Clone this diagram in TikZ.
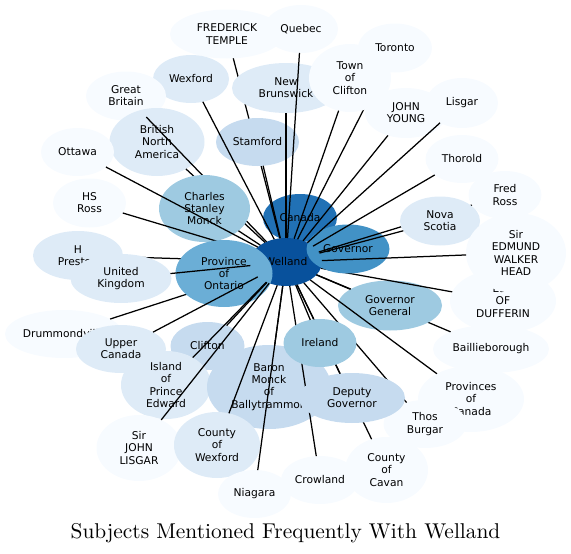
\documentclass[tikz,border=0pt]{standalone}
\usepackage{fontspec}
\newfontfamily\lab{DejaVu Sans}
\newfontfamily\ttlfont{lmroman10-regular.otf}
\usetikzlibrary{shapes.geometric}
\definecolor{cA}{HTML}{08519C}
\definecolor{cB}{HTML}{2171B5}
\definecolor{cC}{HTML}{4292C6}
\definecolor{cD}{HTML}{6BAED6}
\definecolor{cE}{HTML}{9ECAE1}
\definecolor{cF}{HTML}{C6DBEF}
\definecolor{cG}{HTML}{DEEBF7}
\definecolor{cH}{HTML}{F7FBFF}
\tikzset{
  nd/.style={ellipse, inner sep=0pt, outer sep=0pt, align=center, text=black,
    font=\lab\fontsize{10.7}{12.2}\selectfont},
  con/.style={draw=black, line width=1.25pt},
}
\begin{document}
\begin{tikzpicture}[x=1pt,y=-1pt]
\useasboundingbox (0,0) rectangle (571,554);
\node[nd, fill=cB, minimum width=74pt, minimum height=48pt] (canada) at (300,218) {Canada};
\node[nd, fill=cA, minimum width=72pt, minimum height=48pt] (welland) at (286,262) {Welland};
\node[nd, fill=cH, minimum width=116pt, minimum height=48pt] (baill) at (491,349) {Baillieborough};
\draw[con] (welland) -- (baill);
\node[nd, fill=cE, minimum width=104pt, minimum height=50pt] (gg) at (390,305.5) {Governor\\General};
\draw[con] (welland) -- (gg);
\node[nd, fill=cH, minimum width=106pt, minimum height=64pt] (duff) at (503,301) {Earl\\OF\\DUFFERIN};
\draw[con] (welland) -- (duff);
\node[nd, fill=cC, minimum width=83pt, minimum height=49pt] (gov) at (348,249) {Governor};
\node[nd, fill=cH, minimum width=73pt, minimum height=48pt] (fred) at (505,195) {Fred\\Ross};
\draw[con] (welland) -- (fred);
\node[nd, fill=cG, minimum width=80pt, minimum height=49pt] (nova) at (440,221) {Nova\\Scotia};
\draw[con] (welland) -- (nova);
\node[nd, fill=cH, minimum width=100pt, minimum height=80pt] (sewh) at (516,253) {Sir\\EDMUND\\WALKER\\HEAD};
\draw[con] (welland) -- (sewh);
\node[nd, fill=cH, minimum width=73pt, minimum height=48pt] (thor) at (462,159) {Thorold};
\draw[con] (welland) -- (thor);
\node[nd, fill=cH, minimum width=82pt, minimum height=50pt] (jy) at (406,113) {JOHN\\YOUNG};
\draw[con] (welland) -- (jy);
\node[nd, fill=cH, minimum width=72pt, minimum height=50pt] (lisgar) at (462,103) {Lisgar};
\draw[con] (welland) -- (lisgar);
\node[nd, fill=cH, minimum width=114pt, minimum height=49pt] (ft) at (227,34) {FREDERICK\\TEMPLE};
\draw[con] (welland) -- (ft);
\node[nd, fill=cF, minimum width=83pt, minimum height=48pt] (stam) at (257.5,142) {Stamford};
\draw[con] (welland) -- (stam);
\node[nd, fill=cG, minimum width=108pt, minimum height=50pt] (nb) at (286,88) {New\\Brunswick};
\draw[con] (welland) -- (nb);
\node[nd, fill=cH, minimum width=74pt, minimum height=48pt] (quebec) at (301,29) {Quebec};
\draw[con] (welland) -- (quebec);
\node[nd, fill=cH, minimum width=74pt, minimum height=49pt] (toronto) at (395,48) {Toronto};
\draw[con] (welland) -- (toronto);
\node[nd, fill=cH, minimum width=82pt, minimum height=68pt] (toc) at (350,78) {Town\\of\\Clifton};
\draw[con] (welland) -- (toc);
\node[nd, fill=cG, minimum width=76pt, minimum height=48pt] (wex) at (191,79) {Wexford};
\draw[con] (welland) -- (wex);
\node[nd, fill=cH, minimum width=80pt, minimum height=49pt] (gb) at (126,96) {Great\\Britain};
\node[nd, fill=cG, minimum width=95pt, minimum height=68pt] (bna) at (157,142) {British\\North\\America};
\draw[con] (welland) -- (bna);
\draw[con] (welland) -- (gb);
\node[nd, fill=cE, minimum width=91pt, minimum height=67pt] (csm) at (204.5,208.5) {Charles\\Stanley\\Monck};
\draw[con] (welland) -- (csm);
\node[nd, fill=cH, minimum width=73pt, minimum height=48pt] (ottawa) at (77.5,152) {Ottawa};
\draw[con] (welland) -- (ottawa);
\node[nd, fill=cH, minimum width=73pt, minimum height=49pt] (hs) at (89.5,203) {HS\\Ross};
\draw[con] (welland) -- (hs);
\node[nd, fill=cG, minimum width=90pt, minimum height=49pt] (hp) at (78,255.5) {H\\Preston};
\draw[con] (welland) -- (hp);
\node[nd, fill=cH, minimum width=118pt, minimum height=48pt] (drum) at (64,334) {Drummondville};
\draw[con] (welland) -- (drum);
\node[nd, fill=cD, minimum width=97pt, minimum height=67pt] (pont) at (224,273.5) {Province\\of\\Ontario};
\node[nd, fill=cG, minimum width=101pt, minimum height=49pt] (uk) at (121,278.5) {United\\Kingdom};
\draw[con] (welland) -- (uk);
\node[nd, fill=cG, minimum width=90pt, minimum height=48pt] (uc) at (121,349) {Upper\\Canada};
\draw[con] (welland) -- (uc);
\node[nd, fill=cF, minimum width=74pt, minimum height=48pt] (clif) at (207.5,346) {Clifton};
\draw[con] (welland) -- (clif);
\node[nd, fill=cG, minimum width=90pt, minimum height=68pt] (ipe) at (166,385) {Island\\of\\Prince\\Edward};
\draw[con] (welland) -- (ipe);
\node[nd, fill=cH, minimum width=85pt, minimum height=66pt] (sjl) at (139,448) {Sir\\JOHN\\LISGAR};
\draw[con] (welland) -- (sjl);
\node[nd, fill=cF, minimum width=124pt, minimum height=84pt] (bm) at (269,387) {Baron\\Monck\\of\\Ballytrammon};
\draw[con] (welland) -- (bm);
\node[nd, fill=cG, minimum width=86pt, minimum height=66pt] (cow) at (217,445) {County\\of\\Wexford};
\draw[con] (welland) -- (cow);
\node[nd, fill=cH, minimum width=73pt, minimum height=48pt] (niag) at (254.5,494) {Niagara};
\draw[con] (welland) -- (niag);
\node[nd, fill=cH, minimum width=78pt, minimum height=48pt] (crow) at (320,480) {Crowland};
\draw[con] (welland) -- (crow);
\node[nd, fill=cH, minimum width=83pt, minimum height=66pt] (coc) at (386.5,470) {County\\of\\Cavan};
\draw[con] (welland) -- (coc);
\node[nd, fill=cH, minimum width=106pt, minimum height=66pt] (poc) at (471,399) {Provinces\\of\\Canada};
\draw[con] (welland) -- (poc);
\node[nd, fill=cH, minimum width=83pt, minimum height=48pt] (tb) at (425,424) {Thos\\Burgar};
\draw[con] (welland) -- (tb);
\node[nd, fill=cF, minimum width=106pt, minimum height=50pt] (dg) at (352,398) {Deputy\\Governor};
\draw[con] (welland) -- (dg);
\node[nd, fill=cE, minimum width=73pt, minimum height=48pt] (ireland) at (320,343) {Ireland};
\draw[con] (welland) -- (ireland);
\node[anchor=base, inner sep=0pt, font=\ttlfont\fontsize{21.4}{24}\selectfont] (title) at (285.5,538) {Subjects Mentioned Frequently With Welland};
\end{tikzpicture}
\end{document}
